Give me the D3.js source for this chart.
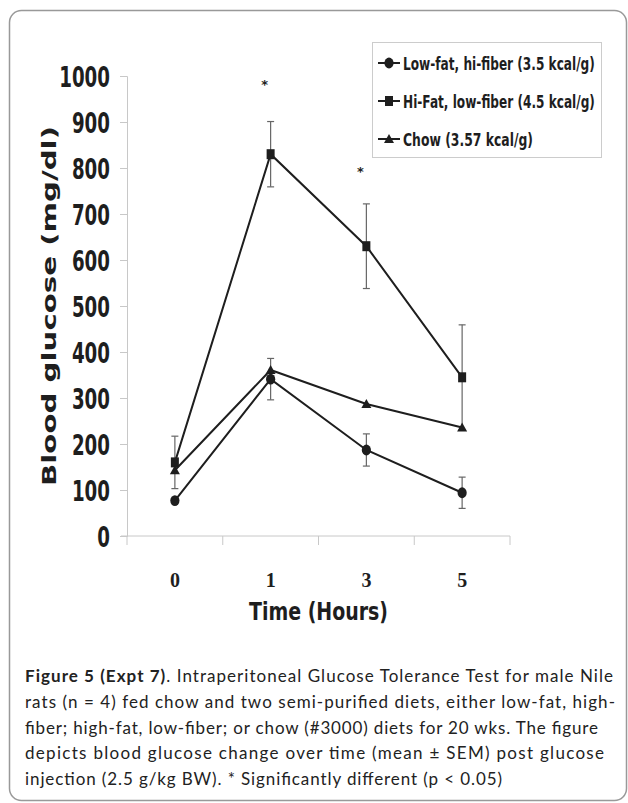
<!DOCTYPE html>
<html>
<head>
<meta charset="utf-8">
<script src="https://cdn.jsdelivr.net/npm/d3@7"></script>
<style>
  body { margin: 0; background: #fff; }
</style>
</head>
<body>
<div id="chart"></div>
<script>
// chart data
var times = ["0", "1", "3", "5"];
var seriesNames = ["Low-fat, hi-fiber (3.5 kcal/g)", "Hi-Fat, low-fiber (4.5 kcal/g)", "Chow (3.57 kcal/g)"];
var lowFatMean = [77, 341, 187, 94];
var lowFatSem = [6, 45, 35, 34];
var hiFatMean = [160, 830, 630, 345];
var hiFatSem = [57, 71, 92, 114];
var chowMean = [143, 361, 287, 236];
var chowSem = [3, 3, 3, 3];
var yTicks = [0, 100, 200, 300, 400, 500, 600, 700, 800, 900, 1000];
var starTimes = ["1", "3"];
var starLevels = [990, 800];
var captionLines = [
    "rats (n = 4) fed chow and two semi-purified diets, either low-fat, high-",
    "fiber; high-fat, low-fiber; or chow (#3000) diets for 20 wks. The figure",
    "depicts blood glucose change over time (mean \u00b1 SEM) post glucose",
    "injection (2.5 g/kg BW). * Significantly different (p < 0.05)"
];

var width = 628, height = 803;
var margin = { top: 76, right: 118, bottom: 267, left: 127 };

var svg = d3.select("#chart")
    .append("svg")
    .attr("width", width)
    .attr("height", height);

// squeeze a text horizontally so it is exactly `target` px wide
var fitWidth = function (sel, target) {
    sel.each(function () {
        var el = d3.select(this);
        var tx = +el.attr("x"), ty = +el.attr("y");
        var w = this.getComputedTextLength();
        el.attr("x", 0).attr("y", 0)
            .attr("transform", "translate(" + tx + "," + ty + ") scale(" + (target / w) + ",1)");
    });
};

// outer frame
svg.append("rect")
    .attr("x", 9.5).attr("y", 10.5)
    .attr("width", 617).attr("height", 790)
    .attr("rx", 12)
    .attr("fill", "none")
    .attr("stroke", "#999")
    .attr("stroke-width", 1.5);

var x = d3.scaleBand()
    .domain(times)
    .range([margin.left, width - margin.right]);

var y = d3.scaleLinear()
    .domain([0, 1000])
    .range([height - margin.bottom, margin.top]);

var axisColor = "#c8c8c8";
var ink = "#1e1e1e";

// Y axis
var yAxis = svg.append("g")
    .attr("transform", "translate(" + margin.left + ",0)")
    .call(d3.axisLeft(y).tickValues(yTicks).tickFormat(d3.format("d")).tickSize(7).tickPadding(10));
yAxis.select(".domain").attr("stroke", axisColor);
yAxis.selectAll(".tick line").attr("stroke", axisColor);
yAxis.selectAll("text")
    .attr("fill", ink)
    .style("font-family", "'DejaVu Sans', Verdana, sans-serif")
    .style("font-weight", "bold")
    .style("font-size", "28px")
    .attr("dy", "0.375em")
    .attr("textLength", function (d) { return String(d).length * 12.7; })
    .attr("lengthAdjust", "spacingAndGlyphs");

// X axis
var xAxis = svg.append("g")
    .attr("transform", "translate(0," + y(0) + ")")
    .call(d3.axisBottom(x).tickSize(0));
xAxis.select(".domain").remove();
xAxis.append("line")
    .attr("x1", margin.left - 6).attr("x2", width - margin.right)
    .attr("stroke", axisColor);
var bounds = [x(times[0])].concat(times.map(function (d) { return x(d) + x.bandwidth(); }));
xAxis.selectAll(".bound")
    .data(bounds)
    .enter()
    .append("line")
    .attr("class", "bound")
    .attr("x1", function (d) { return d; })
    .attr("x2", function (d) { return d; })
    .attr("y2", 9)
    .attr("stroke", axisColor);
xAxis.selectAll(".tick text")
    .attr("fill", ink)
    .attr("y", 51)
    .attr("dy", 0)
    .style("font-family", "'Liberation Serif', 'Times New Roman', serif")
    .style("font-weight", "bold")
    .style("font-size", "20px");

// axis titles
svg.append("text")
    .attr("transform", "translate(56," + (margin.top + height - margin.bottom) / 2 + ") rotate(-90)")
    .attr("text-anchor", "middle")
    .attr("fill", ink)
    .style("font-family", "'DejaVu Sans', Verdana, sans-serif")
    .style("font-weight", "bold")
    .style("font-size", "19.5px")
    .attr("textLength", 360)
    .attr("lengthAdjust", "spacingAndGlyphs")
    .text("Blood glucose (mg/dl)");

svg.append("text")
    .attr("x", (margin.left + width - margin.right) / 2)
    .attr("y", 620)
    .attr("text-anchor", "middle")
    .attr("fill", ink)
    .style("font-family", "'Liberation Sans Narrow', 'DejaVu Sans Condensed', Arial, sans-serif")
    .style("font-weight", "bold")
    .style("font-size", "25px")
    .attr("textLength", 139)
    .attr("lengthAdjust", "spacingAndGlyphs")
    .text("Time (Hours)");

// series
var series = [
    { name: seriesNames[0], mean: lowFatMean, sem: lowFatSem, marker: "circle" },
    { name: seriesNames[1], mean: hiFatMean, sem: hiFatSem, marker: "square" },
    { name: seriesNames[2], mean: chowMean, sem: chowSem, marker: "triangle" }
];
var cx = function (t) { return x(t) + x.bandwidth() / 2; };

var drawMarker = function (g, type, px, py) {
    if (type === "circle") {
        g.append("ellipse").attr("cx", px).attr("cy", py).attr("rx", 4.6).attr("ry", 5.4).attr("fill", ink);
    } else if (type === "square") {
        g.append("rect").attr("x", px - 4).attr("y", py - 5).attr("width", 8).attr("height", 10).attr("fill", ink);
    } else {
        g.append("path")
            .attr("d", "M" + px + "," + (py - 5) + "L" + (px + 5) + "," + (py + 4) + "L" + (px - 5) + "," + (py + 4) + "Z")
            .attr("fill", ink);
    }
};

// error bars first
series.forEach(function (s) {
    var eg = svg.append("g").attr("stroke", "#666").attr("stroke-width", 1.2);
    times.forEach(function (t, i) {
        var top = y(s.mean[i] + s.sem[i]), bot = y(s.mean[i] - s.sem[i]);
        var cap = s.sem[i] > 10 ? 3.5 : 0;
        eg.append("line").attr("x1", cx(t)).attr("x2", cx(t)).attr("y1", top).attr("y2", bot);
        eg.append("line").attr("x1", cx(t) - cap).attr("x2", cx(t) + cap).attr("y1", top).attr("y2", top);
        eg.append("line").attr("x1", cx(t) - cap).attr("x2", cx(t) + cap).attr("y1", bot).attr("y2", bot);
    });
});

var line = d3.line()
    .x(function (d) { return cx(d.t); })
    .y(function (d) { return y(d.v); });

series.forEach(function (s) {
    var pts = times.map(function (t, i) { return { t: t, v: s.mean[i] }; });
    svg.append("path")
        .datum(pts)
        .attr("d", line)
        .attr("fill", "none")
        .attr("stroke", ink)
        .attr("stroke-width", 2);
    var mg = svg.append("g");
    pts.forEach(function (p) { drawMarker(mg, s.marker, cx(p.t), y(p.v)); });
});

// significance stars
svg.selectAll(".star")
    .data(starTimes)
    .enter()
    .append("text")
    .attr("class", "star")
    .attr("x", function (d) { return cx(d) - 6; })
    .attr("y", function (d, i) { return y(starLevels[i]) + 8; })
    .attr("text-anchor", "middle")
    .attr("fill", "#222")
    .style("font-family", "'DejaVu Sans', sans-serif")
    .style("font-weight", "bold")
    .style("font-size", "13px")
    .text("*");

// legend
var legend = svg.append("g");
legend.append("rect")
    .attr("x", 372.5).attr("y", 42.5)
    .attr("width", 229).attr("height", 115)
    .attr("fill", "#fff")
    .attr("stroke", "#ccc");
var legendLen = [192, 192, 130];
series.forEach(function (s, i) {
    var ly = 63 + i * 38;
    legend.append("line")
        .attr("x1", 378).attr("x2", 400)
        .attr("y1", ly).attr("y2", ly)
        .attr("stroke", ink).attr("stroke-width", 2);
    drawMarker(legend, s.marker, 389, ly);
    legend.append("text")
        .attr("x", 403).attr("y", ly + 6.5)
        .attr("fill", ink)
        .style("font-family", "'DejaVu Sans', Verdana, sans-serif")
        .style("font-weight", "bold")
        .style("font-size", "17.5px")
        .text(s.name)
        .call(fitWidth, legendLen[i]);
});

// caption
var capFont = "Lato, 'Open Sans', sans-serif";
var cap1 = svg.append("text")
    .attr("x", 25).attr("y", 682)
    .attr("fill", "#222")
    .style("font-family", capFont)
    .style("font-size", "17px")
    .attr("textLength", 588)
    .attr("lengthAdjust", "spacing");
cap1.append("tspan").style("font-weight", "bold").text("Figure 5 (Expt 7)");
cap1.append("tspan").text(". Intraperitoneal Glucose Tolerance Test for male Nile");

var capLen = [590, 573, 579, 477];
svg.selectAll(".capline")
    .data(captionLines)
    .enter()
    .append("text")
    .attr("class", "capline")
    .attr("x", 25)
    .attr("y", function (d, i) { return 708 + i * 25.5; })
    .attr("fill", "#222")
    .style("font-family", capFont)
    .style("font-size", "17px")
    .attr("textLength", function (d, i) { return capLen[i]; })
    .attr("lengthAdjust", "spacing")
    .text(function (d) { return d; });
</script>
</body>
</html>
